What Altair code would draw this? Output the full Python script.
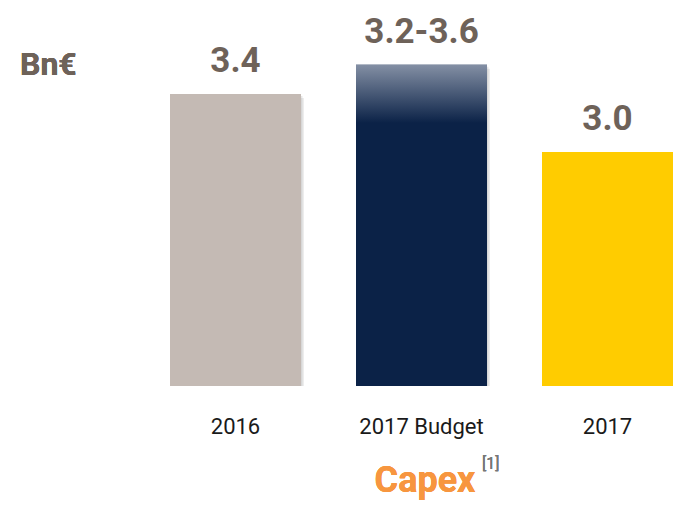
import altair as alt
import pandas as pd

categories = ["2016", "2017 Budget", "2017"]
values = [3.4, 3.6, 3.0]
lows = [3.4, 3.2, 3.0]
labels = ["3.4", "3.2-3.6", "3.0"]
colors = ["#c4bab4", "#0b2247", "#ffcc00"]

df = pd.DataFrame({"cat": categories, "value": values, "low": lows, "label": labels})

BASE = 1.39
TEXT_COL = "#6e6259"
FONT = "Roboto"

x = alt.X("cat:N", sort=categories, title=None,
          scale=alt.Scale(paddingInner=0.2957, paddingOuter=0.4355, align=1, round=False),
          axis=alt.Axis(labelAngle=0, labelFontSize=22, labelColor="#1a1a1a", labelFont=FONT,
                        ticks=False, tickSize=0, domain=False, grid=False, labelPadding=30))
yscale = alt.Scale(domain=[BASE, 3.991], zero=False, nice=False)
y = alt.Y("value:Q", scale=yscale, axis=None)

base = alt.Chart(df)

shadow1 = base.mark_bar(color="#000000", opacity=0.07, xOffset=3, yOffset=4).encode(
    x=x, y=y, y2=alt.datum(BASE))
shadow2 = base.mark_bar(color="#000000", opacity=0.09, xOffset=1.5, yOffset=2).encode(
    x=x, y=y, y2=alt.datum(BASE))

bars = base.mark_bar().encode(
    x=x, y=y, y2=alt.datum(BASE),
    color=alt.Color("cat:N", scale=alt.Scale(domain=categories, range=colors), legend=None))

grad = base.transform_filter(alt.datum.low < alt.datum.value).mark_bar(
    color=alt.LinearGradient(gradient="linear", x1=0, y1=0, x2=0, y2=1,
                             stops=[alt.GradientStop(color="#838fa4", offset=0),
                                    alt.GradientStop(color="#0b2247", offset=1)])
).encode(x=x, y=y, y2=alt.Y2("low:Q"))

text = base.mark_text(font=FONT, fontSize=35, fontWeight="bold", color=TEXT_COL,
                      baseline="alphabetic", dy=-22).encode(x=x, y=y, text="label:N")

unit = base.mark_text(font=FONT, fontSize=32, fontWeight="bold", color=TEXT_COL,
                      align="left", baseline="alphabetic").encode(
    x=alt.value(12), y=alt.value(67), text=alt.value("Bn€"))

capex = base.mark_text(font=FONT, fontSize=36, fontWeight="bold", color="#f7963f",
                       align="center", baseline="alphabetic").encode(
    x=alt.value(417), y=alt.value(484), text=alt.value("Capex"))

note = base.mark_text(font=FONT, fontSize=16, color="#777777",
                      align="left", baseline="alphabetic").encode(
    x=alt.value(474), y=alt.value(461), text=alt.value("[1]"))

chart = alt.layer(shadow1, shadow2, bars, grad, text, unit, capex, note).properties(
    width=665, height=378,
    autosize=alt.AutoSizeParams(type="none"),
    padding={"left": 0, "top": 0, "right": 0, "bottom": 119},
    background="white",
).configure_view(strokeWidth=0, stroke="transparent")

chart.save("out.html", embed_options={"renderer": "svg", "actions": False})
